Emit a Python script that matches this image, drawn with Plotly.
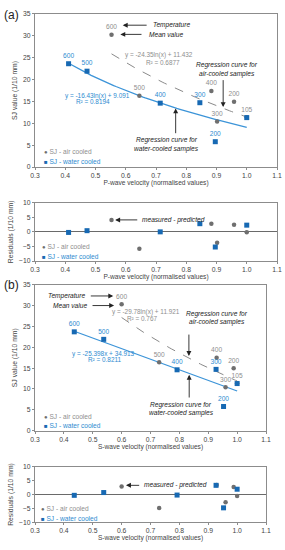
import numpy as np
import plotly.graph_objects as go

# ---------------- data ----------------
temps_air = ["600", "500", "400", "300", "200", "105"]
temps_water = ["600", "500", "400", "300", "200", ""]

# (a) P-wave velocity
p_air_x = [0.553, 0.645, 0.883, 0.902, 0.958, 1.0]
p_air_sj = [30.2, 16.3, 17.4, 10.4, 14.9, 11.4]
p_water_x = [0.411, 0.472, 0.714, 0.845, 0.896, 1.0]
p_water_sj = [23.6, 21.9, 14.6, 14.7, 5.8, 11.3]
p_air_res = [4.1, -5.8, 2.8, -3.7, 2.4, -0.1]
p_water_res = [-0.2, 0.4, 0.0, 2.8, -5.2, 2.3]

# (b) S-wave velocity
s_air_x = [0.600, 0.730, 0.929, 0.960, 0.988, 1.0]
s_air_sj = [30.3, 16.4, 17.5, 10.4, 15.0, 11.4]
s_water_x = [0.436, 0.538, 0.792, 0.927, 0.953, 1.0]
s_water_sj = [23.7, 21.9, 14.6, 14.7, 5.8, 11.3]
s_air_res = [2.9, -4.9, 3.4, -2.8, 2.7, -0.5]
s_water_res = [-0.3, 0.7, -0.2, 3.3, -4.8, 1.9]

# regression equations printed on the chart
p_air_a, p_air_b = -24.35, 11.432      # y = a ln(x) + b
p_water_a, p_water_b = -16.43, 9.091
s_air_a, s_air_b = -29.78, 11.921
s_water_m, s_water_c = -25.398, 34.913  # y = m x + c

x_ticks = [0.3, 0.4, 0.5, 0.6, 0.7, 0.8, 0.9, 1.0, 1.1]
sj_ticks = [0, 5, 10, 15, 20, 25, 30, 35]
res_ticks = [-10, -5, 0, 5, 10]

# ---------------- styles ----------------
FONT = "Liberation Sans, Arial, sans-serif"
GRAY_PT = "#6f6f6f"
GRAY_TXT = "#8e8e8e"
GRAY_LINE = "#8a8a8a"
BLUE_PT = "#1769b3"
BLUE_TXT = "#2e8bd0"
BLUE_LINE = "#3c94d8"
AXC = "#8c8c8c"
TXT = "#444444"
ITAL = 6.6
EQ = 6.4
TICK = 6.8

W, H = 285, 550


def xd(l, r):
    return [l / W, r / W]


def yd(top, bot):
    return [1 - bot / H, 1 - top / H]


fig = go.Figure()


def log_curve(xs, a, b, xa, ya, color, dash, width):
    xx = np.linspace(min(xs), max(xs), 80)
    fig.add_trace(go.Scatter(x=xx, y=a * np.log(xx) + b, mode="lines",
                             line=dict(color=color, dash=dash, width=width),
                             xaxis=xa, yaxis=ya, showlegend=False, hoverinfo="skip"))


def points(x, y, text, color, symbol, size, tcolor, xa, ya, name):
    fig.add_trace(go.Scatter(x=x, y=y, mode="markers+text" if text else "markers",
                             text=text, textposition="top center",
                             textfont=dict(size=6.6, color=tcolor, family=FONT),
                             marker=dict(color=color, symbol=symbol, size=size),
                             xaxis=xa, yaxis=ya, name=name, showlegend=False,
                             cliponaxis=False))


# (a) main
log_curve(p_air_x, p_air_a, p_air_b, "x", "y", GRAY_LINE, "dash", 1)
log_curve(p_water_x, p_water_a, p_water_b, "x", "y", BLUE_LINE, "solid", 1.3)
points(p_air_x, p_air_sj, temps_air, GRAY_PT, "circle", 4.5, GRAY_TXT, "x", "y", "SJ - air cooled")
points(p_water_x, p_water_sj, temps_water, BLUE_PT, "square", 5, BLUE_TXT, "x", "y", "SJ - water cooled")
# (a) residuals
points(p_air_x, p_air_res, None, GRAY_PT, "circle", 4.5, GRAY_TXT, "x2", "y2", "SJ - air cooled")
points(p_water_x, p_water_res, None, BLUE_PT, "square", 5, BLUE_TXT, "x2", "y2", "SJ - water cooled")
# (b) main
log_curve(s_air_x, s_air_a, s_air_b, "x3", "y3", GRAY_LINE, "dash", 1)
sx = [min(s_water_x), max(s_water_x)]
fig.add_trace(go.Scatter(x=sx, y=[s_water_m * v + s_water_c for v in sx], mode="lines",
                         line=dict(color=BLUE_LINE, width=1.3), xaxis="x3", yaxis="y3",
                         showlegend=False, hoverinfo="skip"))
points(s_air_x, s_air_sj, temps_air, GRAY_PT, "circle", 4.5, GRAY_TXT, "x3", "y3", "SJ - air cooled")
points(s_water_x, s_water_sj, temps_water, BLUE_PT, "square", 5, BLUE_TXT, "x3", "y3", "SJ - water cooled")
# (b) residuals
points(s_air_x, s_air_res, None, GRAY_PT, "circle", 4.5, GRAY_TXT, "x4", "y4", "SJ - air cooled")
points(s_water_x, s_water_res, None, BLUE_PT, "square", 5, BLUE_TXT, "x4", "y4", "SJ - water cooled")

# ---------------- axes ----------------
def xaxis(dom, anchor, title):
    return dict(domain=dom, anchor=anchor, range=[0.3, 1.1], tickvals=x_ticks,
                tickformat=".1f", showline=True, mirror=True, linecolor=AXC, linewidth=1,
                ticks="outside", ticklen=2, tickcolor=AXC, showgrid=False, zeroline=False,
                tickfont=dict(size=TICK, color=TXT, family=FONT),
                title=dict(text=title, font=dict(size=6.6, color=TXT, family=FONT), standoff=1),
                automargin=False)


def yaxis(dom, anchor, rng, ticks, title, zero=False):
    return dict(domain=dom, anchor=anchor, range=rng, tickvals=ticks,
                showline=True, mirror=True, linecolor=AXC, linewidth=1,
                ticks="outside", ticklen=2, tickcolor=AXC, showgrid=False,
                zeroline=zero, zerolinecolor="#6a6a6a", zerolinewidth=1,
                tickfont=dict(size=TICK, color=TXT, family=FONT),
                title=dict(text=title, font=dict(size=6.8, color=TXT, family=FONT), standoff=4),
                automargin=False)


fig.update_layout(
    width=W, height=H, margin=dict(l=0, r=0, t=0, b=0),
    paper_bgcolor="white", plot_bgcolor="white", showlegend=False,
    font=dict(family=FONT, size=7, color=TXT),
    xaxis=xaxis(xd(35, 277), "y", "P-wave velocity (normalised values)"),
    yaxis=yaxis(yd(13.8, 167.1), "x", [0, 35], sj_ticks, "SJ value (1/10 mm)"),
    xaxis2=xaxis(xd(35, 277), "y2", "P-wave velocity (normalised values)"),
    yaxis2=yaxis(yd(202.7, 261), "x2", [-10, 10], res_ticks, "Residuals (1/10 mm)", True),
    xaxis3=xaxis(xd(35, 266), "y3", "S-wave velocity (normalised values)"),
    yaxis3=yaxis(yd(284.7, 430.7), "x3", [0, 35], sj_ticks, "SJ value (1/10 mm)"),
    xaxis4=xaxis(xd(35, 266), "y4", "S-wave velocity (normalised values)"),
    yaxis4=yaxis(yd(466.7, 522.3), "x4", [-10, 10], res_ticks, "Residuals (1/10 mm)", True),
)

# ---------------- annotations ----------------
ann = []


def text(xr, yr, x, y, t, color="#222", size=ITAL, xanchor="center", italic=False):
    if italic:
        t = "<i>" + t + "</i>"
    ann.append(dict(xref=xr, yref=yr, x=x, y=y, text=t, showarrow=False,
                    xanchor=xanchor, yanchor="middle",
                    font=dict(size=size, color=color, family=FONT)))


def arrow(xr, yr, x0, y0, x1, y1):
    ann.append(dict(xref=xr, yref=yr, axref=xr, ayref=yr, x=x1, y=y1, ax=x0, ay=y0,
                    text="", showarrow=True, arrowhead=2, arrowsize=1.1,
                    arrowwidth=0.9, arrowcolor="#222"))


def legend(xr, yr, x, y_air, y_water):
    ann.append(dict(xref=xr, yref=yr, x=x, y=y_air, showarrow=False, xanchor="left",
                    yanchor="middle",
                    text=f"<span style='color:{GRAY_PT};font-size:6px'>●</span>"
                         f"<span style='color:{GRAY_TXT}'> SJ - air cooled</span>",
                    font=dict(size=6.6, family=FONT)))
    ann.append(dict(xref=xr, yref=yr, x=x, y=y_water, showarrow=False, xanchor="left",
                    yanchor="middle",
                    text=f"<span style='color:{BLUE_PT};font-size:6px'>■</span>"
                         f"<span style='color:{BLUE_TXT}'> SJ - water cooled</span>",
                    font=dict(size=6.6, family=FONT)))


# panel labels
ann.append(dict(xref="paper", yref="paper", x=2 / W, y=1 - 15 / H, text="(a)",
                showarrow=False, xanchor="left", yanchor="middle",
                font=dict(size=12, color="#222", family=FONT)))
ann.append(dict(xref="paper", yref="paper", x=2 / W, y=1 - 285 / H, text="(b)",
                showarrow=False, xanchor="left", yanchor="middle",
                font=dict(size=12, color="#222", family=FONT)))

# (a) main
text("x", "y", 0.684, 32.4, "Temperature", xanchor="left", italic=True)
arrow("x", "y", 0.674, 32.4, 0.59, 32.4)
text("x", "y", 0.670, 30.3, "Mean value", xanchor="left", italic=True)
arrow("x", "y", 0.657, 30.3, 0.582, 30.3)
text("x", "y", 0.71, 25.6, "y = -24.35ln(x) + 11.432", color=GRAY_TXT, size=EQ)
text("x", "y", 0.723, 23.9, "R² = 0.6877", color=GRAY_TXT, size=EQ)
text("x", "y", 0.936, 23.2, "Regression curve for", italic=True)
text("x", "y", 0.936, 21.3, "air-cooled samples", italic=True)
arrow("x", "y", 0.922, 20.2, 0.922, 13.7)
text("x", "y", 0.505, 16.3, "y = -16.43ln(x) + 9.091", color=BLUE_TXT, size=EQ)
text("x", "y", 0.492, 15.0, "R² = 0.8194", color=BLUE_TXT, size=EQ)
arrow("x", "y", 0.765, 7.4, 0.765, 13.4)
text("x", "y", 0.735, 6.3, "Regression curve for", italic=True)
text("x", "y", 0.735, 4.2, "water-cooled samples", italic=True)
legend("x", "y", 0.323, 3.5, 1.2)

# (a) residuals
text("x2", "y2", 0.647, 4.1, "measured - predicted", xanchor="left", italic=True)
arrow("x2", "y2", 0.643, 4.1, 0.565, 4.1)
legend("x2", "y2", 0.316, -5.1, -8.5)

# (b) main
text("x3", "y3", 0.48, 32.3, "Temperature", xanchor="right", italic=True)
arrow("x3", "y3", 0.488, 32.3, 0.571, 32.3)
text("x3", "y3", 0.487, 30.0, "Mean value", xanchor="right", italic=True)
arrow("x3", "y3", 0.494, 30.0, 0.574, 30.0)
text("x3", "y3", 0.684, 28.5, "y = -29.78ln(x) + 11.921", color=GRAY_TXT, size=EQ)
text("x3", "y3", 0.672, 26.9, "R² = 0.767", color=GRAY_TXT, size=EQ)
text("x3", "y3", 0.93, 27.9, "Regression curve for", italic=True)
text("x3", "y3", 0.93, 26.0, "air-cooled samples", italic=True)
arrow("x3", "y3", 0.833, 23.4, 0.833, 17.9)
text("x3", "y3", 0.538, 18.3, "y = -25.398x + 34.913", color=BLUE_TXT, size=EQ)
text("x3", "y3", 0.541, 17.0, "R² = 0.8211", color=BLUE_TXT, size=EQ)
arrow("x3", "y3", 0.834, 7.6, 0.834, 13.4)
text("x3", "y3", 0.806, 6.2, "Regression curve for", italic=True)
text("x3", "y3", 0.806, 4.2, "water-cooled samples", italic=True)
legend("x3", "y3", 0.324, 3.5, 1.2)

# (b) residuals
text("x4", "y4", 0.672, 3.3, "measured - predicted", xanchor="left", italic=True)
arrow("x4", "y4", 0.666, 3.3, 0.615, 3.3)
legend("x4", "y4", 0.314, -5.0, -8.5)

fig.update_layout(annotations=ann)
fig.write_html("out.html", config={"displayModeBar": False},
               post_script="document.body.style.margin='0';")
